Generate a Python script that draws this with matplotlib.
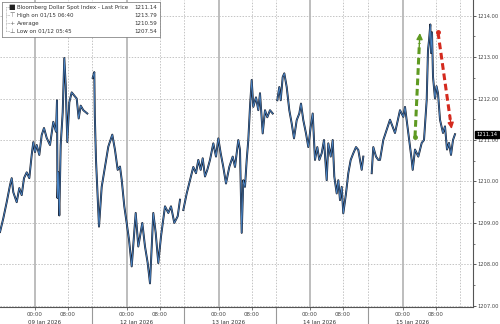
import numpy as np
import matplotlib
matplotlib.use("Agg")
import matplotlib.pyplot as plt
from matplotlib.transforms import blended_transform_factory

nan = np.nan

# bar position (~15-min trading bars from chart start) and index level
# nan marks the daily session breaks
bar_pos = [0, 3.3, 6.7, 10, 11.7, 13.3, 16.7, 19.3, 21.7, 24, 26.7, 29.3, 31.7, 33.3, 35, 36.7,
           39.3, 41.7, 44, 46.7, 50, 53.3, 56, 57, 57.5, 58.3, 59.3, 60.7, 62.7, 64.3, 65.7, 67.3,
           69.3, 71.7, 74, 76.7, 78.7, 80.7, 83.3, 87.3,
           89,
           92.7, 94.3, 94.8, 96, 97, 99, 101.7, 105, 108.3, 112.3, 115, 117.7, 120, 121.7, 124.3,
           126.7, 129, 131.7, 135.7, 138.3, 142.3, 145, 147.7, 150, 153.3, 155.7, 158.3, 161,
           165, 168.3, 171, 174.3, 177.7, 180,
           182,
           183.3, 186.7, 190, 193.3, 196, 198.3, 200.7, 202.7, 205, 207.3, 210, 213.3, 216, 218.3,
           220.7, 223.3, 226, 229.3, 232.7, 235, 238.3, 240, 241.7, 243.3, 245, 246.7, 248.3,
           250, 251.7, 253.3, 256, 258.3, 260, 262.7, 265, 267.3, 270, 272.7,
           275,
           277.3, 279.3, 280.7, 282.7, 284.3, 286.7, 289.3, 291.7, 294, 296.7, 299.3, 301, 303.3,
           306, 308.3, 310.7, 312.7, 315, 317.3, 319.3, 321.7, 324, 326.7, 328.3, 330.7, 332.7,
           334.3, 336.7, 338.3, 340, 341.7, 343.3, 346, 348.3, 350.7, 353.3, 356, 358.3, 360,
           361.7, 363.3,
           367,
           371.7, 373.3, 376, 378.3, 380, 383.3, 390, 395, 400, 403.3, 405, 408.3, 411.7, 412.7,
           415, 418.3, 421.7, 424, 426.7, 428, 429, 430.3, 431, 432, 433, 435, 436.5, 438, 440,
           443, 445, 447, 449, 451, 453, 455]
price = [1208.78, 1209.11, 1209.5, 1209.91, 1210.08, 1209.74, 1209.5, 1209.84, 1209.67, 1210.08,
         1210.22, 1210.08, 1210.64, 1210.95, 1210.71, 1210.88, 1210.64, 1211.12, 1211.29,
         1211.05, 1210.88, 1211.44, 1211.2, 1211.96, 1209.6, 1210.22, 1209.18, 1210.88, 1211.67,
         1212.98, 1212.33, 1210.95, 1211.91, 1212.15, 1212.08, 1212.0, 1211.52, 1211.83,
         1211.72, 1211.64,
         nan,
         1212.5, 1212.64, 1211.6, 1210.52, 1209.97, 1208.91, 1209.87, 1210.36, 1210.84, 1211.13,
         1210.76, 1210.28, 1210.36, 1210.04, 1209.4, 1209.0, 1208.6, 1207.95, 1209.24, 1208.43,
         1209.0, 1208.43, 1208.03, 1207.54, 1209.24, 1208.76, 1208.03, 1208.67, 1209.4, 1209.24,
         1209.4, 1209.0, 1209.16, 1209.56,
         nan,
         1209.31, 1209.71, 1210.03, 1210.35, 1210.2, 1210.52, 1210.28, 1210.56, 1210.12, 1210.28,
         1210.52, 1210.92, 1210.6, 1211.04, 1210.68, 1210.35, 1209.95, 1210.35, 1210.6, 1210.35,
         1211.0, 1210.76, 1208.76, 1210.03, 1209.87, 1210.52, 1211.0, 1211.8, 1212.45, 1211.8,
         1212.03, 1211.72, 1212.13, 1211.16, 1211.72, 1211.55, 1211.72, 1211.64,
         nan,
         1211.96, 1212.28, 1211.96, 1212.52, 1212.61, 1212.28, 1211.72, 1211.4, 1211.04, 1211.48,
         1211.64, 1211.88, 1211.48, 1211.16, 1210.83, 1211.32, 1211.64, 1210.52, 1210.83,
         1210.52, 1210.68, 1211.0, 1210.03, 1210.92, 1210.6, 1211.0, 1210.12, 1209.71, 1210.03,
         1209.55, 1209.87, 1209.23, 1209.71, 1210.2, 1210.52, 1210.68, 1210.83, 1210.76,
         1210.52, 1210.28, 1210.6,
         nan,
         1210.2, 1210.83, 1210.6, 1210.52, 1210.52, 1211.0, 1211.49, 1211.17, 1211.72, 1211.56,
         1211.8, 1211.17, 1210.52, 1210.28, 1210.77, 1210.6, 1210.93, 1211.0, 1211.97, 1213.17,
         1213.4, 1213.79, 1213.1, 1213.6, 1212.53, 1212.0, 1212.3, 1212.13, 1211.49, 1211.17,
         1211.33, 1210.77, 1210.93, 1210.64, 1211.0, 1211.14]

midnight_pos = [35, 127, 219, 310, 403]
eight_pos = [68, 160, 252, 343, 436]
session_breaks = [92, 184, 276, 368, 460]
day_labels = ["09 Jan 2026", "12 Jan 2026", "13 Jan 2026", "14 Jan 2026", "15 Jan 2026"]
y_ticks = [1207, 1208, 1209, 1210, 1211, 1212, 1213, 1214]

legend_rows = [("Bloomberg Dollar Spot Index - Last Price", "1211.14"),
               ("High on 01/15 06:40", "1213.79"),
               ("Average", "1210.59"),
               ("Low on 01/12 05:45", "1207.54")]
last_price = 1211.14

# annotation arrows: (tail x, tail y, head x, head y)
green_arrow = (415, 1211.07, 420, 1213.65)
red_arrow = (438, 1213.6, 452, 1211.2)

fig = plt.figure(figsize=(5, 3.24), dpi=100)
ax = fig.add_axes([0, 0.0525, 0.946, 0.9475])
ax.set_xlim(0, 473)
ax.set_ylim(1206.97, 1214.38)

# grid
for y in y_ticks:
    ax.axhline(y, color="#c4c4c4", lw=0.7, ls=(0, (1.5, 1.5)), zorder=0)
for x in midnight_pos:
    ax.axvline(x, color="#b8b8b8", lw=1.3, zorder=0)
for x in eight_pos + session_breaks:
    ax.axvline(x, color="#c4c4c4", lw=0.7, ls=(0, (1.5, 1.5)), zorder=0)

ax.plot(bar_pos, price, color="#151a28", lw=1.4, zorder=2)
ax.plot(bar_pos, price, color="#4a86c8", lw=0.6, zorder=3)

# arrows
for (x0, y0, x1, y1), col in [(green_arrow, "#5f9a22"), (red_arrow, "#d42a1e")]:
    ax.plot([x0, x0 + (x1 - x0) * 0.88], [y0, y0 + (y1 - y0) * 0.88], color=col, lw=2.2,
            ls=(0, (2.2, 1.2)), zorder=5)
    ax.plot([x0], [y0], "o", color=col, ms=2.5, zorder=5)
    ax.annotate("", xy=(x1, y1), xytext=(x0 + (x1 - x0) * 0.8, y0 + (y1 - y0) * 0.8),
                arrowprops=dict(arrowstyle="-|>", color=col, lw=1, mutation_scale=9), zorder=6)

# right axis
for s in ["top", "left"]:
    ax.spines[s].set_visible(False)
for s in ["right", "bottom"]:
    ax.spines[s].set_color("#555555")
    ax.spines[s].set_linewidth(0.8)
ax.yaxis.tick_right()
ax.set_yticks(y_ticks)
ax.set_yticklabels([f"{v:.2f}" for v in y_ticks], fontsize=3.7, color="#333333")
ax.set_yticks(np.array(y_ticks[:-1]) + 0.5, minor=True)
ax.tick_params(axis="y", which="major", length=2.2, width=0.6, pad=0.8, colors="#444444")
ax.tick_params(axis="y", which="minor", length=1.5, width=0.5, colors="#444444")

ax.set_xticks(midnight_pos + eight_pos)
ax.set_xticklabels(["00:00"] * 5 + ["08:00"] * 5, fontsize=4.0, color="#333333")
ax.tick_params(axis="x", which="major", length=2, width=0.5, pad=1.5, colors="#444444")

trans = blended_transform_factory(ax.transData, ax.transAxes)
for x, lab in zip(midnight_pos, day_labels):
    ax.text(x + 10, -0.052, lab, transform=trans, fontsize=4.0, color="#333333",
            ha="center", va="center", clip_on=False)
for x in session_breaks[:-1]:
    ax.plot([x, x], [0, -0.07], transform=trans, color="#999999", lw=0.8, clip_on=False)

# last price tag
ax.annotate(f"{last_price:.2f}", xy=(1.0, last_price), xycoords=("axes fraction", "data"),
            xytext=(2.5, 0), textcoords="offset points", fontsize=3.7, color="white",
            va="center", ha="left", annotation_clip=False,
            bbox=dict(boxstyle="square,pad=0.2", fc="black", ec="black"))

# legend box
leg_ax = fig.add_axes([0.004, 0.886, 0.316, 0.108])
leg_ax.set_xlim(0, 158)
leg_ax.set_ylim(35, 0)
leg_ax.set_xticks([])
leg_ax.set_yticks([])
for s in leg_ax.spines.values():
    s.set_color("#888888")
    s.set_linewidth(0.6)
leg_ax.plot([4, 4], [5, 30], color="#999999", lw=0.5, ls=(0, (1, 1)))
icons = ["■", "⊤", "+", "⊥"]
for i, ((name, val), icon) in enumerate(zip(legend_rows, icons)):
    yy = 5.5 + i * 8
    leg_ax.plot([4, 8], [yy, yy], color="#999999", lw=0.5, ls=(0, (1, 1)))
    leg_ax.text(10, yy, icon, fontsize=4.5 if i else 5, color="#222222" if i == 0 else "#666666",
                ha="center", va="center")
    leg_ax.text(15, yy, name, fontsize=4.0, color="#333333", va="center", ha="left")
    leg_ax.text(155, yy, val, fontsize=4.0, color="#333333", va="center", ha="right")

fig.savefig("out.png", dpi=100)
